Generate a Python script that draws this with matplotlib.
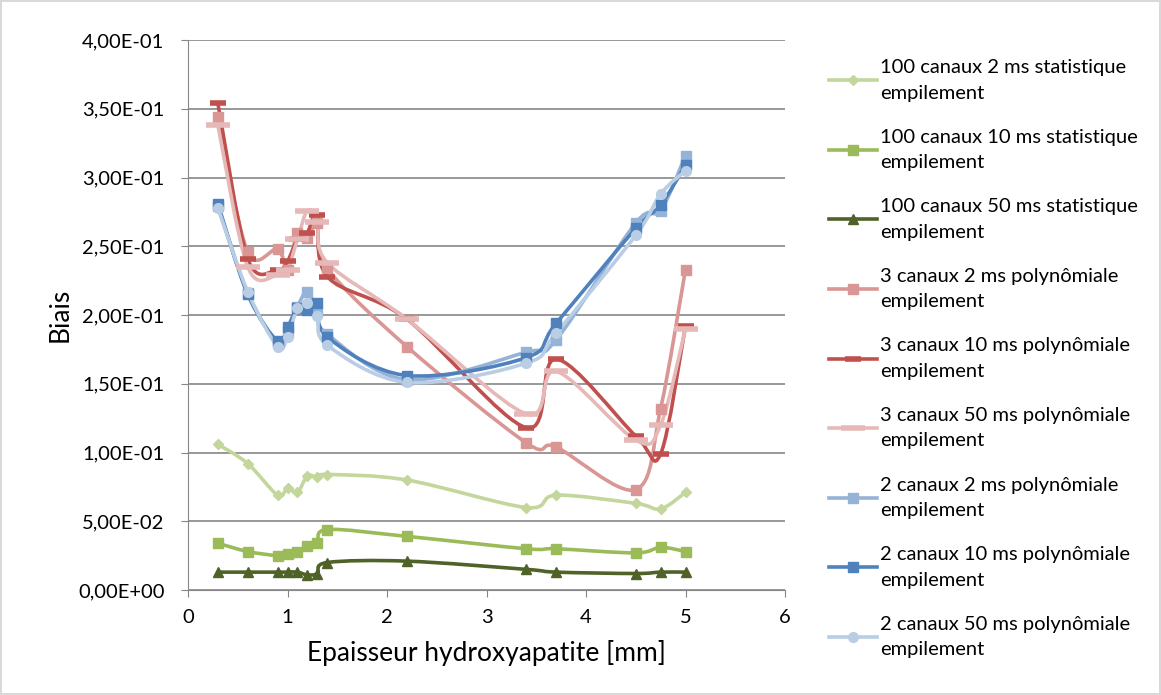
import numpy as np
import matplotlib.pyplot as plt
from matplotlib.path import Path
from matplotlib.patches import PathPatch
from matplotlib.lines import Line2D

plt.rcParams['font.family'] = ['Lato', 'DejaVu Sans']

# epaisseur (mm)
x = [0.3, 0.6, 0.9, 1.0, 1.1, 1.2, 1.3, 1.4, 2.2, 3.4, 3.7, 4.5, 4.75, 5.0]

c100_2ms = [0.106, 0.092, 0.069, 0.074, 0.071, 0.083, 0.082, 0.084, 0.080, 0.060, 0.069, 0.063, 0.059, 0.071]
c100_10ms = [0.034, 0.028, 0.025, 0.026, 0.028, 0.032, 0.034, 0.044, 0.039, 0.030, 0.030, 0.027, 0.031, 0.028]
c100_50ms = [0.013, 0.013, 0.013, 0.013, 0.013, 0.011, 0.012, 0.020, 0.021, 0.015, 0.013, 0.012, 0.013, 0.013]
c3_2ms = [0.344, 0.246, 0.248, 0.233, 0.260, 0.256, 0.267, 0.234, 0.177, 0.107, 0.104, 0.073, 0.132, 0.233]
c3_10ms = [0.354, 0.241, 0.233, 0.239, 0.255, 0.260, 0.273, 0.228, 0.197, 0.118, 0.168, 0.112, 0.099, 0.192]
c3_50ms = [0.338, 0.235, 0.229, 0.233, 0.255, 0.276, 0.268, 0.238, 0.197, 0.128, 0.159, 0.109, 0.120, 0.190]
c2_2ms = [0.279, 0.216, 0.180, 0.188, 0.206, 0.217, 0.202, 0.186, 0.153, 0.173, 0.182, 0.267, 0.276, 0.316]
c2_10ms = [0.281, 0.215, 0.181, 0.191, 0.205, 0.204, 0.209, 0.184, 0.156, 0.169, 0.194, 0.263, 0.280, 0.309]
c2_50ms = [0.278, 0.217, 0.177, 0.184, 0.205, 0.209, 0.199, 0.178, 0.151, 0.165, 0.187, 0.258, 0.288, 0.305]

labels = ["100 canaux 2 ms statistique\nempilement",
          "100 canaux 10 ms statistique\nempilement",
          "100 canaux 50 ms statistique\nempilement",
          "3 canaux 2 ms polynômiale\nempilement",
          "3 canaux 10 ms polynômiale\nempilement",
          "3 canaux 50 ms polynômiale\nempilement",
          "2 canaux 2 ms polynômiale\nempilement",
          "2 canaux 10 ms polynômiale\nempilement",
          "2 canaux 50 ms polynômiale\nempilement"]
series = [c100_2ms, c100_10ms, c100_50ms, c3_2ms, c3_10ms, c3_50ms, c2_2ms, c2_10ms, c2_50ms]
colors = ['#C3D69B', '#9BBB59', '#4F6228', '#D99694', '#C0504D', '#E6B9B8', '#95B3D7', '#4F81BD', '#B9CDE5']
markers = ['D', 's', '^', 's', '_', '_', 's', 's', 'o']
msizes = [5, 7, 7, 7, 12, 17, 7, 7, 7]


def smooth_path(xs, ys):
    # courbe lissee facon Excel (Catmull-Rom -> Bezier)
    pts = np.column_stack([xs, ys])
    n = len(pts)
    verts = [pts[0]]
    codes = [Path.MOVETO]
    for i in range(n - 1):
        p0 = pts[i - 1] if i > 0 else pts[i]
        p1 = pts[i]
        p2 = pts[i + 1]
        p3 = pts[i + 2] if i + 2 < n else pts[i + 1]
        verts += [p1 + (p2 - p0) / 6, p2 - (p3 - p1) / 6, p2]
        codes += [Path.CURVE4] * 3
    return Path(verts, codes)


fig = plt.figure(figsize=(11.61, 6.95), dpi=100)
fig.patch.set_edgecolor('#D9D9D9')
fig.patch.set_linewidth(1.5)
ax = fig.add_axes([188 / 1161, 1 - 590 / 695, (785 - 188) / 1161, 550 / 695])

handles = []
for ys, col, mk, ms in zip(series, colors, markers, msizes):
    ax.add_patch(PathPatch(smooth_path(x, ys), fill=False, edgecolor=col, lw=2.6,
                           capstyle='round', joinstyle='round'))
    mew = 4 if mk == '_' else 1
    ax.plot(x, ys, ls='none', marker=mk, ms=ms, color=col, mew=mew, mec=col)
    handles.append(Line2D([], [], color=col, lw=2.6, marker=mk, ms=ms, mew=mew))

ax.set_xlim(0, 6)
ax.set_ylim(0, 0.4)
ax.set_xticks(range(7))
ax.set_yticks(np.arange(0, 0.41, 0.05))
ax.set_yticklabels([f"{v:.2E}".replace('.', ',') for v in np.arange(0, 0.41, 0.05)])
ax.tick_params(labelsize=14.5, colors='#868686', labelcolor='black', length=5)
ax.tick_params(axis='y', pad=12)
ax.tick_params(axis='x', pad=9)
ax.grid(axis='y', color='#868686', lw=1.2)
ax.set_axisbelow(True)
for s in ['top', 'right']:
    ax.spines[s].set_visible(False)
for s in ['left', 'bottom']:
    ax.spines[s].set_color('#868686')
ax.set_ylabel('Biais', fontsize=19, labelpad=4)
ax.set_xlabel('Epaisseur hydroxyapatite [mm]', fontsize=19, labelpad=10)

leg = fig.legend(handles, labels, loc='upper left', bbox_to_anchor=(811 / 1161, 1 - 41 / 695),
                 frameon=False, fontsize=14.5, handlelength=2.4, labelspacing=1.35,
                 handletextpad=0.15)
for t in leg.get_texts():
    t.set_linespacing(1.6)

fig.savefig('out.png', dpi=100, edgecolor=fig.get_edgecolor())
